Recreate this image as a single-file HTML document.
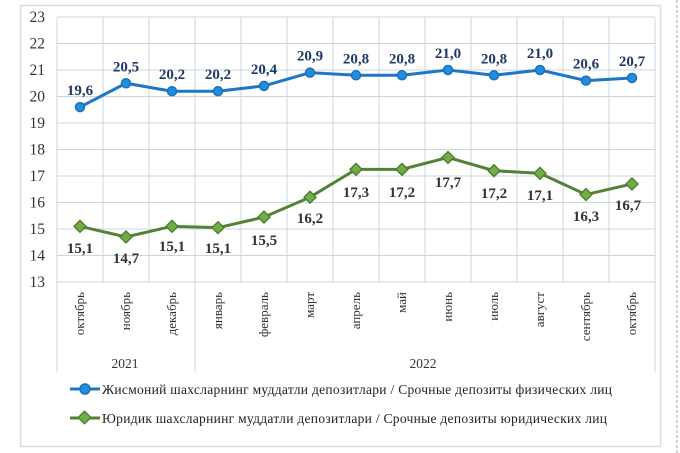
<!DOCTYPE html>
<html><head><meta charset="utf-8"><style>
body{margin:0;background:#fff;}
svg{display:block;font-family:"Liberation Serif",serif;}
</style></head><body>
<svg width="680" height="453" viewBox="0 0 680 453">
<rect x="0" y="0" width="680" height="453" fill="#fff"/>
<rect x="20.5" y="5.5" width="640" height="441" fill="none" stroke="#d8dde2" stroke-width="1.5"/>
<line x1="677" y1="0" x2="677" y2="453" stroke="#8fa8c8" stroke-width="1" stroke-dasharray="3,2"/>
<g id="grid" stroke="#c9d7e3" stroke-width="1"></g>
<g id="ylab" font-size="15.5" fill="#333" text-anchor="end"></g>
<g id="xl" font-size="13" fill="#333"></g>
<line x1="57" y1="282" x2="57" y2="372" stroke="#c9d7e3"/>
<line x1="195" y1="282" x2="195" y2="372" stroke="#c9d7e3"/>
<line x1="655" y1="282" x2="655" y2="372" stroke="#c9d7e3"/>
<text x="125" y="368" font-size="13.5" fill="#333" text-anchor="middle">2021</text>
<text x="423" y="368" font-size="13.5" fill="#333" text-anchor="middle">2022</text>
<g id="s"></g>
<line x1="70" y1="389" x2="100" y2="389" stroke="#1f77c4" stroke-width="3"/>
<circle cx="85" cy="389" r="5" fill="#1e8fe0" stroke="#1f6fb4" stroke-width="1.5"/>
<text x="102" y="394" font-size="13.5" fill="#222" textLength="510">Жисмоний шахсларнинг  муддатли  депозитлари / Срочные депозиты  физических  лиц</text>
<line x1="70" y1="418" x2="100" y2="418" stroke="#548235" stroke-width="3"/>
<rect x="80" y="413" width="9" height="9" transform="rotate(45 84.5 417.5)" fill="#70ad47" stroke="#4a7a2c" stroke-width="1.3"/>
<text x="102" y="423" font-size="13.5" fill="#222" textLength="505">Юридик  шахсларнинг  муддатли  депозитлари  / Срочные депозиты юридических  лиц</text>
</svg>
<script>
const ns="http://www.w3.org/2000/svg";
function el(p,t,a,txt){const e=document.createElementNS(ns,t);for(const k in a)e.setAttribute(k,a[k]);if(txt)e.textContent=txt;document.getElementById(p).appendChild(e);return e;}
const L=57,R=655,T=17,B=282,Y=v=>B-(v-13)*(B-T)/10,W=(R-L)/13,X=i=>L+W/2+W*i;
for(let v=13;v<=23;v++){el('grid','line',{x1:L,x2:R,y1:Y(v),y2:Y(v)});el('ylab','text',{x:45,y:Y(v)+5},String(v));}
for(let i=0;i<=13;i++)el('grid','line',{x1:L+W*i,x2:L+W*i,y1:T,y2:B});
const m=["октябрь","ноябрь","декабрь","январь","февраль","март","апрель","май","июнь","июль","август","сентябрь","октябрь"];
m.forEach((t,i)=>el('xl','text',{x:0,y:0,transform:`translate(${X(i)+4},292) rotate(-90)`,'text-anchor':'end'},t));
const a=[19.6,20.5,20.2,20.2,20.4,20.9,20.8,20.8,21.0,20.8,21.0,20.6,20.7];
const b=[15.1,14.7,15.1,15.1,15.5,16.2,17.3,17.2,17.7,17.2,17.1,16.3,16.7];
const by=[15.1,14.7,15.1,15.05,15.45,16.2,17.25,17.25,17.7,17.2,17.1,16.3,16.7];
el('s','polyline',{points:a.map((v,i)=>X(i)+','+Y(v)).join(' '),fill:'none',stroke:'#1f77c4','stroke-width':3});
el('s','polyline',{points:by.map((v,i)=>X(i)+','+Y(v)).join(' '),fill:'none',stroke:'#548235','stroke-width':3});
a.forEach((v,i)=>{el('s','circle',{cx:X(i),cy:Y(v),r:4.5,fill:'#1e8fe0',stroke:'#1f6fb4','stroke-width':1.5});
el('s','text',{x:X(i),y:Y(v)-12,'text-anchor':'middle','font-size':15,'font-weight':'bold',fill:'#1f3864'},v.toFixed(1).replace('.',','));});
by.forEach((v,i)=>{const x=X(i),y=Y(v);el('s','polygon',{points:`${x},${y-6} ${x+6},${y} ${x},${y+6} ${x-6},${y}`,fill:'#70ad47',stroke:'#4a7a2c','stroke-width':1.3});});
const lbY=[248,258,246,248,240,218,192,192,182,193,195,216,205];
b.forEach((v,i)=>el('s','text',{x:X(i)+(i==12?-4:0),y:lbY[i]+5,'text-anchor':'middle','font-size':15,'font-weight':'bold',fill:'#333'},v.toFixed(1).replace('.',',')));
</script>
</body></html>
